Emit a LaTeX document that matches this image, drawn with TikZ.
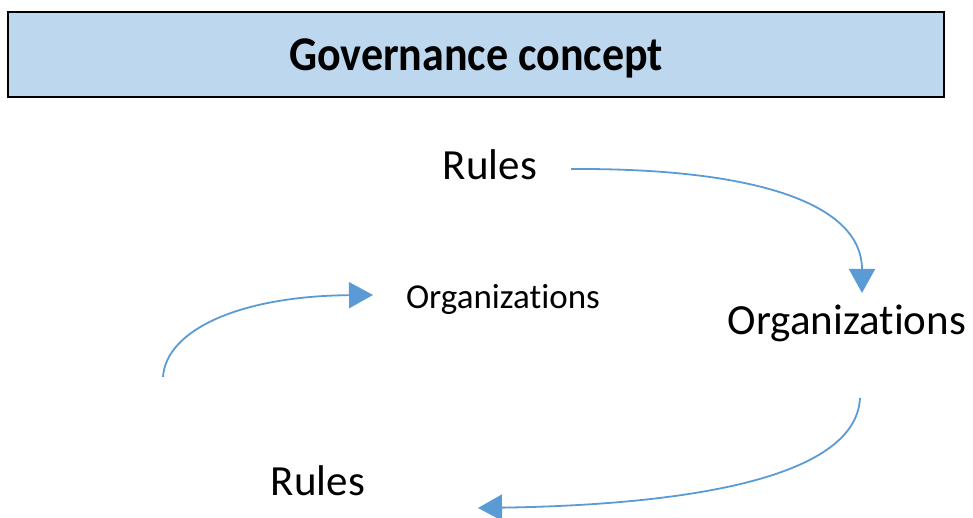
\documentclass[tikz,border=0pt]{standalone}
\usepackage{fontspec}
\setmainfont{Carlito}[Ligatures=NoCommon]
\usetikzlibrary{arrows.meta}
\definecolor{boxblue}{HTML}{BDD7EE}
\definecolor{linkblue}{HTML}{5B9BD5}
\begin{document}
\begin{tikzpicture}[x=1pt,y=-1pt,
  titlebox/.style={draw=black, line width=1.5pt, fill=boxblue},
  lbl/.style={inner sep=0pt, text=black},
  link/.style={draw=linkblue, line width=1.8pt, -{Triangle[length=24pt,width=26pt]}}]
\useasboundingbox (0,0) rectangle (973,518);
\path[titlebox] (8,12) rectangle (944,97);
\node[lbl, font=\fontsize{44}{50}\selectfont\bfseries, yscale=1.1] (title) at (476,58) {Governance concept};
\node[lbl, font=\fontsize{43}{50}\selectfont] (rulesA) at (490,165) {Rules};
\node[lbl, font=\fontsize{43}{50}\selectfont] (orgA) at (847,323) {Organizations};
\node[lbl, font=\fontsize{35}{42}\selectfont] (orgB) at (503,299) {Organizations};
\node[lbl, font=\fontsize{43}{50}\selectfont] (rulesB) at (318,481) {Rules};
\coordinate (s1) at (571,169);
\coordinate (e1) at (862,293);
\coordinate (s2) at (860,398);
\coordinate (e2) at (478,508);
\coordinate (s3) at (163,377);
\coordinate (e3) at (373,295);
\draw[link] (s1) .. controls (760,168) and (862,205) .. (e1);
\draw[link] (s2) .. controls (856,480) and (680,505) .. (e2);
\draw[link] (s3) .. controls (166,330) and (240,296) .. (e3);
\end{tikzpicture}
\end{document}
